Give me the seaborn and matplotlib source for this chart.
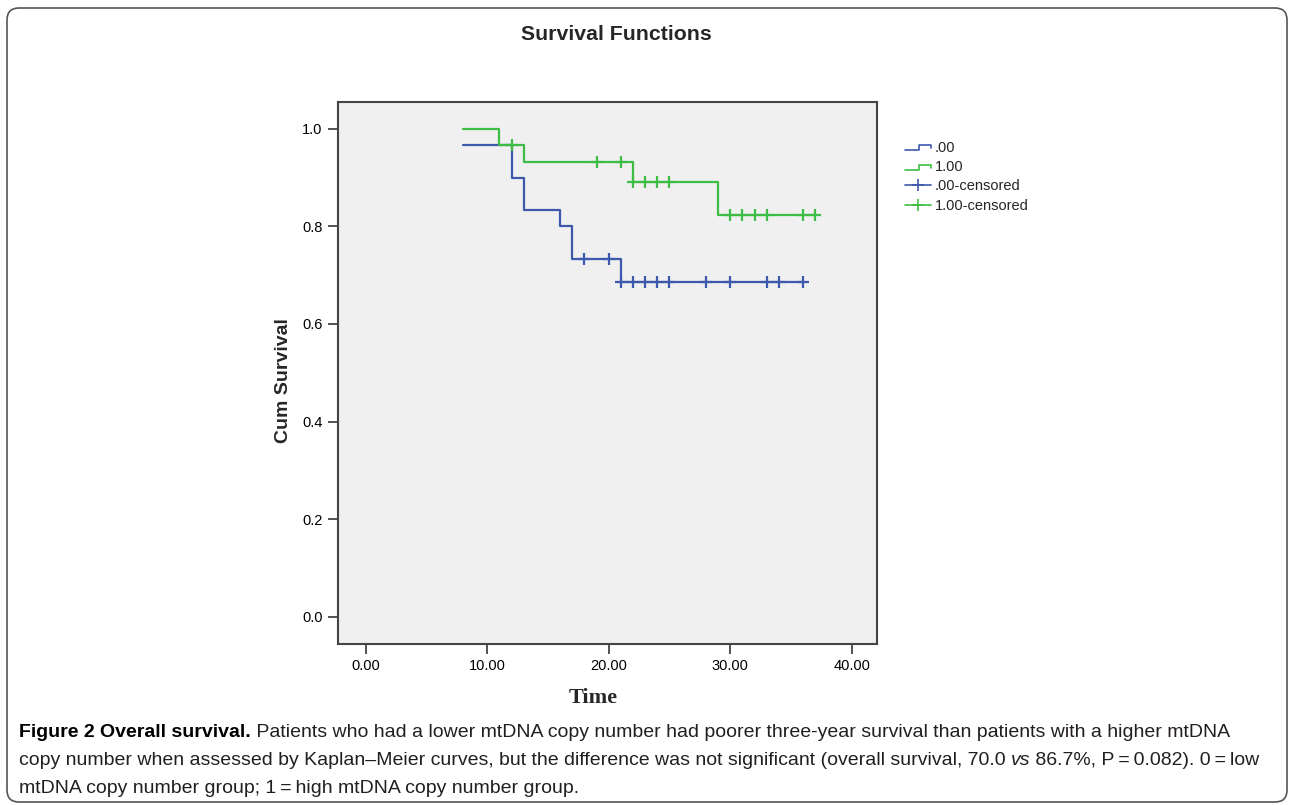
import numpy as np
import pandas as pd
import seaborn as sns
import matplotlib.pyplot as plt
from matplotlib.lines import Line2D
from matplotlib.legend_handler import HandlerBase
from matplotlib.patches import FancyBboxPatch
from matplotlib.transforms import IdentityTransform

# step points of the Kaplan-Meier curves (time, survival after the step)
low_times = [8, 12, 13, 16, 17, 21, 36]
low_surv = [0.967, 0.900, 0.834, 0.800, 0.733, 0.687, 0.687]
high_times = [8, 11, 13, 22, 29, 37]
high_surv = [1.000, 0.967, 0.932, 0.892, 0.823, 0.823]

# censored observations
low_censored = [18, 20, 21, 22, 23, 24, 25, 28, 30, 33, 34, 36]
high_censored = [12, 19, 21, 22, 23, 24, 25, 30, 31, 32, 33, 36, 37]

x_ticks = [0, 10, 20, 30, 40]
y_ticks = [0.0, 0.2, 0.4, 0.6, 0.8, 1.0]

group_labels = [".00", "1.00", ".00-censored", "1.00-censored"]
blue = "#3d59ad"
green = "#3dbd45"


def surv_at(times, surv, t):
    # value of the step function right after time t
    idx = np.searchsorted(times, t, side="right") - 1
    return np.array(surv)[idx]


class StepHandler(HandlerBase):
    def create_artists(self, legend, orig_handle, xdescent, ydescent,
                       width, height, fontsize, trans):
        x0 = -xdescent
        y0 = -ydescent
        xs = [x0, x0 + 0.55 * width, x0 + 0.55 * width, x0 + width, x0 + width]
        ys = [y0 + 0.15 * height, y0 + 0.15 * height, y0 + 0.65 * height,
              y0 + 0.65 * height, y0 + 0.35 * height]
        line = Line2D(xs, ys, color=orig_handle.get_color(), lw=1.2)
        line.set_transform(trans)
        return [line]


sns.set_style("ticks")
plt.rcParams["font.family"] = ["Liberation Sans", "DejaVu Sans"]

fig = plt.figure(figsize=(12.9, 8.05), dpi=100)
ax = fig.add_axes([0.262, 0.2, 0.418, 0.6733])
ax.set_facecolor("#f0f0f0")

low_df = pd.DataFrame({"time": low_times, "surv": low_surv})
high_df = pd.DataFrame({"time": high_times, "surv": high_surv})
sns.lineplot(data=low_df, x="time", y="surv", drawstyle="steps-post",
             color=blue, lw=1.6, estimator=None, ax=ax)
sns.lineplot(data=high_df, x="time", y="surv", drawstyle="steps-post",
             color=green, lw=1.6, estimator=None, ax=ax)

low_c = pd.DataFrame({"time": low_censored,
                      "surv": surv_at(low_times, low_surv, low_censored)})
high_c = pd.DataFrame({"time": high_censored,
                       "surv": surv_at(high_times, high_surv, high_censored)})
sns.scatterplot(data=low_c, x="time", y="surv", marker="+", s=70,
                color=blue, linewidth=1.6, ax=ax, zorder=3)
sns.scatterplot(data=high_c, x="time", y="surv", marker="+", s=70,
                color=green, linewidth=1.6, ax=ax, zorder=3)

ax.set_xlim(-2.29, 42.1)
ax.set_ylim(-0.056, 1.055)
ax.set_xticks(x_ticks)
ax.set_xticklabels([f"{v:.2f}" for v in x_ticks])
ax.set_yticks(y_ticks)
ax.set_yticklabels([f"{v:.1f}" for v in y_ticks])
ax.tick_params(direction="out", length=7, width=1.3, color="#444444",
               labelsize=10.5, labelcolor="black", pad=4)
for sp in ax.spines.values():
    sp.set_visible(True)
    sp.set_color("#444444")
    sp.set_linewidth(1.5)
ax.set_xlabel("")
ax.set_ylabel("")

fig.text(283 / 1290, 1 - 381 / 805, "Cum Survival", rotation=90,
         ha="center", va="center", fontsize=14, fontweight="bold")
fig.text(593 / 1290, 1 - 698 / 805, "Time", ha="center", va="center",
         fontsize=16, fontweight="bold", family="Liberation Serif")
fig.text(616 / 1290, 1 - 35 / 805, "Survival Functions", ha="center",
         va="center", fontsize=15.3, fontweight="bold")

h0 = Line2D([], [], color=blue)
h1 = Line2D([], [], color=green)
h2 = Line2D([], [], color=blue, marker="+", markersize=9, lw=1.2, mew=1.2)
h3 = Line2D([], [], color=green, marker="+", markersize=9, lw=1.2, mew=1.2)
fig.legend([h0, h1, h2, h3], group_labels,
           handler_map={h0: StepHandler(), h1: StepHandler()},
           loc="upper left", bbox_to_anchor=(905 / 1290, 1 - 141 / 805),
           frameon=False, fontsize=10.5, handlelength=1.8,
           handletextpad=0.25, labelspacing=0.36, borderpad=0,
           borderaxespad=0)

# rounded frame round the whole figure
frame = FancyBboxPatch((7, 3), 1280, 794,
                       boxstyle="round,pad=0,rounding_size=12",
                       transform=IdentityTransform(), fill=False,
                       edgecolor="#555555", lw=1.2)
fig.patches.append(frame)

# caption with mixed styles
renderer = fig.canvas.get_renderer()
cap_size = 14
cap_color = "#231f20"
caption_lines = [
    [("Figure 2 Overall survival.", "bold", "normal"),
     (" Patients who had a lower mtDNA copy number had poorer three-year "
      "survival than patients with a higher mtDNA", "normal", "normal")],
    [("copy number when assessed by Kaplan\u2013Meier curves, but the difference "
      "was not significant (overall survival, 70.0 ", "normal", "normal"),
     ("vs", "normal", "italic"),
     (" 86.7%, P\u2009=\u20090.082). 0\u2009=\u2009low", "normal", "normal")],
    [("mtDNA copy number group; 1\u2009=\u2009high mtDNA copy number group.",
      "normal", "normal")],
]
baselines = [737, 765, 793]
for runs, yb in zip(caption_lines, baselines):
    x = 19
    for txt, weight, style in runs:
        t = fig.text(x, 805 - yb, txt, transform=IdentityTransform(),
                     fontsize=cap_size, fontweight=weight, fontstyle=style,
                     color="black" if weight == "bold" else cap_color,
                     va="baseline", ha="left")
        x = t.get_window_extent(renderer).x1

fig.savefig("out.png", dpi=100)
